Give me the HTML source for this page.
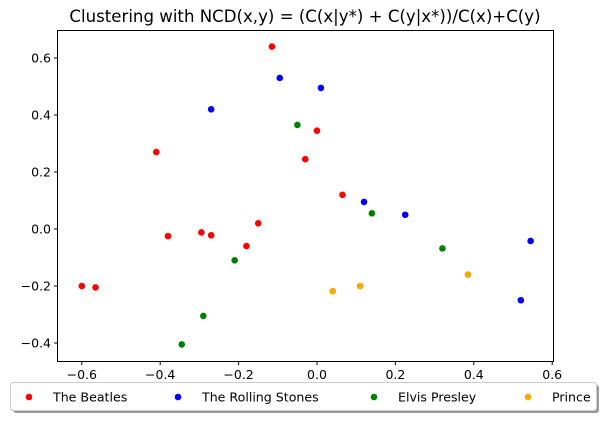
<!DOCTYPE html>
<html><head><meta charset="utf-8"><style>
body{margin:0;background:#fff;width:611px;height:421px;overflow:hidden}
text{font-family:"DejaVu Sans","Liberation Sans",sans-serif;fill:#000}
</style></head><body>
<svg id="chart" width="611" height="421" xmlns="http://www.w3.org/2000/svg">
<text x="305" y="22" text-anchor="middle" font-size="16.6">Clustering with NCD(x,y) = (C(x|y*) + C(y|x*))/C(x)+C(y)</text>
<g id="ticks"></g>
<g id="points"></g>
<rect x="57.5" y="30.5" width="496" height="331" fill="none" stroke="#000" stroke-width="1"/>
<g>
<rect x="13" y="385" width="586" height="28" rx="3" fill="#999"/>
<rect x="10.5" y="382.5" width="586" height="28" rx="3" fill="#fff" stroke="#ccc"/>
<g id="legend-items"></g>
</g>
</svg>
<script>
const xTicks=[-0.6,-0.4,-0.2,0.0,0.2,0.4,0.6];
const yTicks=[-0.4,-0.2,0.0,0.2,0.4,0.6];
const seriesNames=["The Beatles","The Rolling Stones","Elvis Presley","Prince"];
const seriesColors=["#ff0000","#0000ff","#008000","#ffa500"];
const beatlesX=[-0.6,-0.565,-0.41,-0.38,-0.295,-0.27,-0.18,-0.15,-0.115,-0.03,0.0,0.065];
const beatlesY=[-0.2,-0.205,0.27,-0.025,-0.012,-0.022,-0.06,0.02,0.64,0.245,0.345,0.12];
const stonesX=[-0.27,-0.095,0.01,0.12,0.225,0.52,0.545];
const stonesY=[0.42,0.53,0.495,0.095,0.05,-0.25,-0.042];
const elvisX=[-0.345,-0.29,-0.21,-0.05,0.14,0.32];
const elvisY=[-0.405,-0.305,-0.11,0.365,0.055,-0.068];
const princeX=[0.04,0.11,0.385];
const princeY=[-0.218,-0.2,-0.16];
const NS="http://www.w3.org/2000/svg";
const xs=v=>317+v*392;
const ys=v=>229-v*285;
function mk(t,a){const e=document.createElementNS(NS,t);for(const k in a)e.setAttribute(k,a[k]);return e;}
const tg=document.getElementById('ticks');
xTicks.forEach(v=>{const x=xs(v);
const l=mk('line',{x1:x,x2:x,y1:361.5,y2:365,stroke:'#000'});

tg.appendChild(l);
const t=mk('text',{x:x,y:379,'text-anchor':'middle','font-size':'12.5'});t.textContent=v.toFixed(1).replace('-','\u2212');

tg.appendChild(t);});
yTicks.forEach(v=>{const y=ys(v);
const l=mk('line',{x1:54,x2:57.5,y1:y,y2:y,stroke:'#000'});

tg.appendChild(l);
const t=mk('text',{x:51,y:y+4.5,'text-anchor':'end','font-size':'12.5'});t.textContent=v.toFixed(1).replace('-','\u2212');

tg.appendChild(t);});
const pg=document.getElementById('points');
const all=[[beatlesX,beatlesY],[stonesX,stonesY],[elvisX,elvisY],[princeX,princeY]];
all.forEach((s,i)=>{s[0].forEach((x,j)=>{
const c=mk('circle',{cx:xs(x),cy:ys(s[1][j]),r:3.3,fill:seriesColors[i]});

pg.appendChild(c);});});
const lg=document.getElementById('legend-items');
const lx=[29,178,374,528];
seriesNames.forEach((n,i)=>{
const c=mk('circle',{cx:lx[i],cy:397,r:3.3,fill:seriesColors[i]});

lg.appendChild(c);
const t=mk('text',{x:lx[i]+24,y:401.5,'font-size':'12.6'});t.textContent=n;

lg.appendChild(t);});
</script>
</body></html>
